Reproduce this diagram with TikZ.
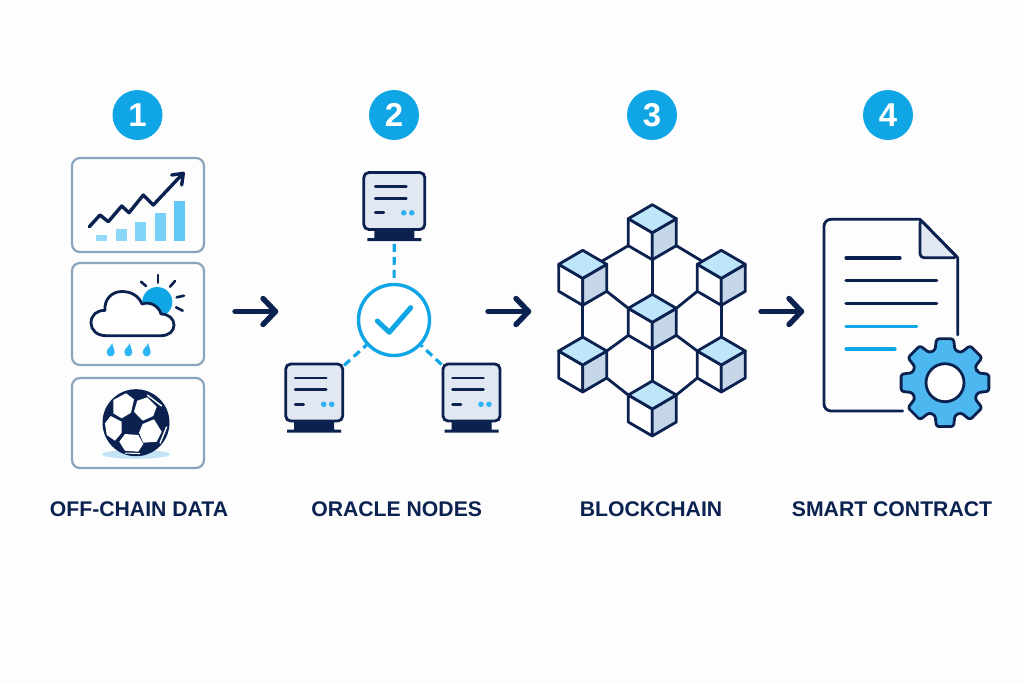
\documentclass[tikz,border=0pt]{standalone}
\usepackage{fontspec}
\setmainfont{Liberation Sans}
\usetikzlibrary{positioning,arrows.meta,calc,backgrounds}
\definecolor{navyColor}{HTML}{0B2250}
\definecolor{skyColor}{HTML}{10A6E6}
\definecolor{rainColor}{HTML}{2DB6F5}
\definecolor{frameColor}{HTML}{8AA5BD}
\definecolor{paperColor}{HTML}{E2E8F1}
\definecolor{cubeTopColor}{HTML}{BDE6FB}
\definecolor{cubeSideColor}{HTML}{C5D6E9}
\definecolor{gearColor}{HTML}{4DB8F0}
\definecolor{shadowColor}{HTML}{C2E4F7}
\definecolor{pageColor}{HTML}{FDFDFD}

\tikzset{
  badge/.style={circle,fill=skyColor,text=white,inner sep=0pt,minimum size=50pt,font=\fontsize{33}{33}\selectfont\bfseries},
  caption/.style={text=navyColor,inner sep=0pt,font=\fontsize{21.2}{21.2}\selectfont\bfseries},
  databox/.style={draw=frameColor,line width=2.2pt,rounded corners=8pt,minimum width=132pt,inner sep=0pt},
  serverbox/.style={draw=navyColor,line width=2.8pt,fill=paperColor,rounded corners=5pt,minimum width=57pt,minimum height=57pt,inner sep=0pt},
  hub/.style={circle,draw=skyColor,line width=3.4pt,fill=white,minimum size=71pt,inner sep=0pt},
  link/.style={draw=skyColor,line width=3.2pt,dash pattern=on 8pt off 5pt},
  flow/.style={draw=navyColor,line width=5.4pt,line cap=round,line join=round},
  cubeline/.style={draw=navyColor,line width=2.8pt,line join=round},
  docline/.style={draw=navyColor,line width=2.8pt,line cap=round,line join=round},
  textline/.style={line width=3.2pt,line cap=round},
  server/.pic={
    \fill[navyColor] (-20,29) -- (20,29) -- (20,37) -- (27,37) -- (27,40) -- (-27,40) -- (-27,37) -- (-20,37) -- cycle;
    \draw[navyColor,line width=2.8pt,line cap=round] (-19,-14.6) -- (12,-14.6);
    \draw[navyColor,line width=2.8pt,line cap=round] (-19,-2.7) -- (12,-2.7);
    \draw[navyColor,line width=2.8pt,line cap=round] (-19,11.8) -- (-10.5,11.8);
    \fill[rainColor] (9.5,11.8) circle (2.8) (17.5,11.8) circle (2.8);
  },
  cube/.pic={
    \coordinate (-c) at (0,0);
    \coordinate (-t) at (0,-28);
    \coordinate (-b) at (0,27);
    \coordinate (-ul) at (-24,-14);
    \coordinate (-ur) at (24,-14);
    \coordinate (-ll) at (-24,13);
    \coordinate (-lr) at (24,13);
    \coordinate (-le) at (-19,-17);
    \coordinate (-re) at (19,-17);
    \filldraw[cubeline,fill=white] (-ul) -- (-c) -- (-b) -- (-ll) -- cycle;
    \filldraw[cubeline,fill=cubeSideColor] (-ur) -- (-c) -- (-b) -- (-lr) -- cycle;
    \filldraw[cubeline,fill=cubeTopColor] (-t) -- (-ur) -- (-c) -- (-ul) -- cycle;
  },
  drop/.pic={
    \fill[rainColor] (1.6,-7) .. controls (1.8,-3) and (4,-1.5) .. (4,2.2) .. controls (4,4.8) and (2,6.4) .. (0,6.4) .. controls (-2,6.4) and (-4,4.8) .. (-4,2.2) .. controls (-4,-1.5) and (0,-3) .. (1.6,-7) -- cycle;
  }
}

\begin{document}
\begin{tikzpicture}[x=1pt,y=-1pt,>=Latex]
    \begin{scope}[on background layer]
      \fill[pageColor] (0,0) rectangle (1024,683);
    \end{scope}

    % numbers
    \node[badge] (n1) at (137.5,115) {1};
    \node[badge] (n2) at (394,115) {2};
    \node[badge] (n3) at (652,115) {3};
    \node[badge] (n4) at (888,115) {4};

    % data sources
    \node[databox,minimum height=94pt] (box1) at (138,205) {};
    \node[databox,minimum height=102pt] (box2) at (138,314) {};
    \node[databox,minimum height=90pt] (box3) at (138,423) {};

    % chart
    \fill[rainColor!50] (96,235) rectangle (107,240.7);
    \fill[rainColor!55] (115.7,229.3) rectangle (126.7,240.7);
    \fill[rainColor!60] (135.3,222) rectangle (146.3,240.7);
    \fill[rainColor!65] (155,213.3) rectangle (166,240.7);
    \fill[rainColor!75] (174.3,200.7) rectangle (185.3,240.7);
    \draw[docline,line width=3.4pt] (89.3,226.7) -- (100,215) -- (108.3,221.7) -- (121.7,206) -- (129,212.7) -- (143.3,195) -- (153.3,205) -- (182,174.5);
    \draw[docline,line width=3.4pt] (171.7,175) -- (183.3,173.3) -- (181.7,185);

    % weather
    \fill[skyColor] (157.3,302) circle (15);
    \draw[docline,line width=2.6pt] (141,281.7) -- (146,286);
    \draw[docline,line width=2.6pt] (158,275) -- (158,282.7);
    \draw[docline,line width=2.6pt] (175,281) -- (170,286.7);
    \draw[docline,line width=2.6pt] (184,295.7) -- (176.7,297.3);
    \draw[docline,line width=2.6pt] (182.7,310.7) -- (176,307.3);
    \filldraw[docline,fill=white] (106,335.7) .. controls (97,335.7) and (91,330) .. (91,323) .. controls (91,315) and (97,310) .. (105,310.5) .. controls (104,299) and (112,291.5) .. (122,291.5) .. controls (131,291.5) and (139,296) .. (142,304) .. controls (150,301) and (159,306) .. (161,314) .. controls (169,314) and (174,319) .. (174,325) .. controls (174,331) and (169,335.7) .. (161,335.7) -- cycle;
    \foreach \x in {110.7,128.3,146.7}{
      \pic at (\x,350) {drop};
    }

    % ball
    \fill[shadowColor] (136,454.3) ellipse (34 and 4.5);
    \node[circle,fill=navyColor,minimum size=67pt,inner sep=0pt] (ball) at (136,422.7) {};
    \fill[white] (126,393.3) -- (134,399.3) -- (131,412.7) -- (121.7,418.3) -- (113.3,413.3) -- (113.3,400) -- cycle;
    \fill[white] (137.3,400.7) -- (147.3,397.3) -- (156.7,406.7) -- (153.3,416) -- (142.7,420.7) -- (134,411.7) -- cycle;
    \fill[white] (110.7,416) -- (121.7,421.7) -- (121.7,432.7) -- (115,440.7) -- (106.7,435) -- (105,423.3) -- cycle;
    \fill[white] (154,419.3) -- (161.7,431.7) -- (156.7,441.7) -- (143.3,442.7) -- (139,432.7) -- (142.7,424) -- cycle;
    \fill[white] (125,434) -- (138.3,435) -- (143.3,444) -- (138.3,451.7) -- (125,450.7) -- (119.3,441.7) -- cycle;
    \draw[white,line width=1.4pt] (147.3,395) -- (161.7,406);
    \draw[white,line width=1.4pt] (166.7,426.7) -- (160,443.3);
    \draw[white,line width=1pt] (125,453) -- (140,453.6);

    % oracle nodes
    \node[hub] (hub) at (394,320) {};
    \node[serverbox,minimum width=61pt] (srvtop) at (394.3,201) {};
    \node[serverbox] (srvleft) at (314.2,392.5) {};
    \node[serverbox] (srvright) at (471.5,392.5) {};
    \foreach \x/\y in {394.3/201,314.2/392.5,471.5/392.5}{
      \pic at (\x,\y) {server};
    }
    \begin{scope}[on background layer]
      \foreach \s in {srvtop,srvleft,srvright}{
        \draw[link] (\s) -- (hub);
      }
    \end{scope}
    \draw[skyColor,line width=5pt,line cap=round,line join=round] (377.3,321) -- (389.3,332.3) -- (410.7,307.7);

    % blockchain
    \pic (ctop) at (652.3,232.7) {cube};
    \pic (cul) at (582.7,278.3) {cube};
    \pic (cur) at (721.3,278.3) {cube};
    \pic (cmid) at (652.3,322.3) {cube};
    \pic (cll) at (582.7,365) {cube};
    \pic (clr) at (721.3,365) {cube};
    \pic (cbot) at (652.3,409) {cube};
    \foreach \u/\v in {ctop-b/cmid-t,ctop-ll/cul-re,ctop-lr/cur-le,cul-b/cll-t,cur-b/clr-t,cul-lr/cmid-ul,cur-ll/cmid-ur,cll-ur/cmid-ll,clr-ul/cmid-lr,cmid-b/cbot-t,cll-lr/cbot-ul,clr-ll/cbot-ur}{
      \draw[cubeline] (\u) -- (\v);
    }

    % contract
    \filldraw[docline,fill=paperColor,rounded corners=4pt] (920,219.3) -- (920,257.7) -- (957.7,257.7) -- cycle;
    \draw[docline,rounded corners=7pt] (902.7,411) -- (824,411) -- (824,219.3) -- (920,219.3);
    \draw[docline] (920,219.3) -- (957.7,257.7) -- (957.7,335);
    \draw[textline,navyColor] (846,258) -- (900,258);
    \draw[textline,navyColor] (846,280.7) -- (936.7,280.7);
    \draw[textline,navyColor] (846,303.3) -- (936.7,303.3);
    \draw[textline,skyColor] (846,326.3) -- (916.7,326.3);
    \draw[textline,skyColor] (846,349) -- (895,349);
    \begin{scope}[shift={(945,382.7)}]
      \filldraw[docline,fill=gearColor,rounded corners=2.5pt] (-17:34)
        \foreach \a in {0,45,...,315}{
          -- (\a-17:34) -- (\a-11:44.7) -- (\a+11:44.7) -- (\a+17:34)
        } -- cycle;
      \node[circle,draw=navyColor,line width=2.8pt,fill=white,minimum size=38pt,inner sep=0pt] (gearhole) at (0,0) {};
    \end{scope}

    % arrows between the steps
    \coordinate (a1) at (235,311.5);
    \coordinate (a2) at (275.5,311.5);
    \coordinate (b1) at (488,311.5);
    \coordinate (b2) at (528.5,311.5);
    \coordinate (c1) at (761,311.5);
    \coordinate (c2) at (801.5,311.5);
    \foreach \u/\v in {a1/a2,b1/b2,c1/c2}{
      \draw[flow] (\u) -- (\v);
      \draw[flow] ($(\v)+(-12.5,-13)$) -- (\v) -- ($(\v)+(-12.5,13)$);
    }

    % captions
    \node[caption] (cap1) at (139,509.5) {OFF-CHAIN DATA};
    \node[caption] (cap2) at (396.7,509.5) {ORACLE NODES};
    \node[caption] (cap3) at (651,509.5) {BLOCKCHAIN};
    \node[caption] (cap4) at (892,509.5) {SMART CONTRACT};
  \end{tikzpicture}
\end{document}
